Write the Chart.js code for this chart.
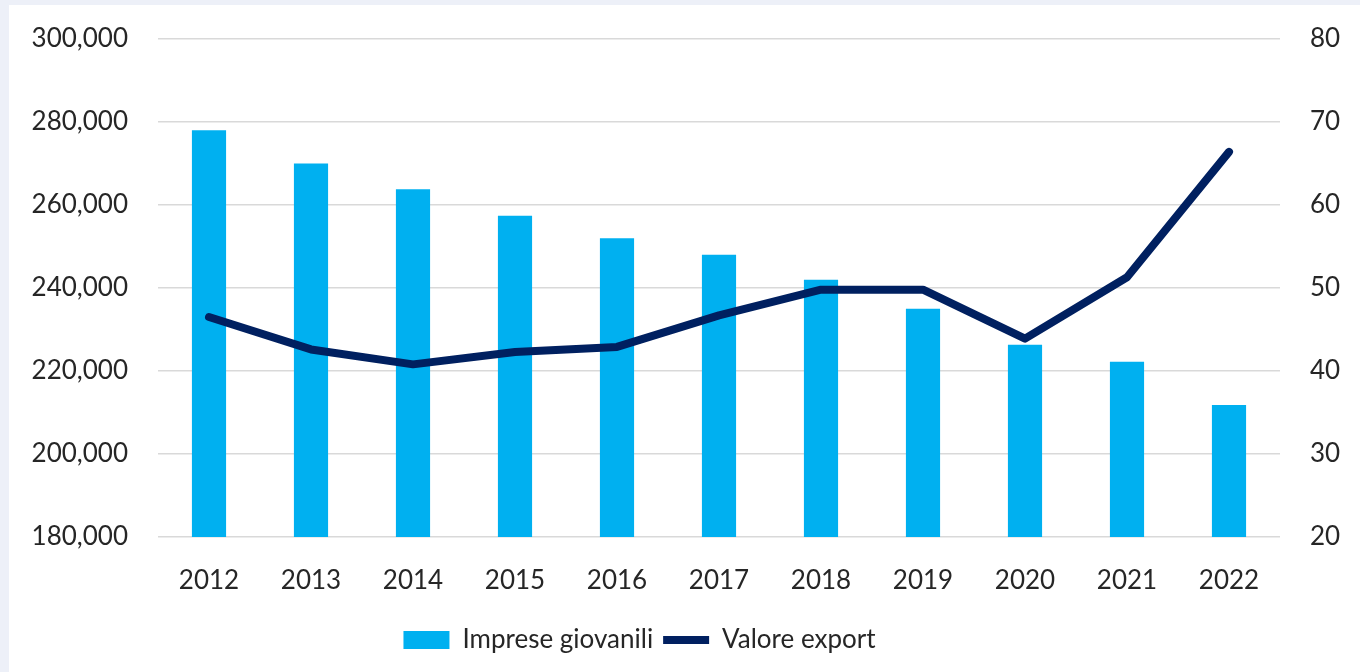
<!DOCTYPE html>
<html>
<head>
<meta charset="utf-8">
<script src="https://cdn.jsdelivr.net/npm/chart.js@4/dist/chart.umd.min.js"></script>
<style>
  html, body { margin: 0; padding: 0; background: #edf0f8; }
  #wrap { position: absolute; left: 9px; top: 5px; width: 1351px; height: 667px; background: #fff; }
</style>
</head>
<body>
<div id="wrap"><canvas id="myChart"></canvas></div>
<script>
const years = ['2012', '2013', '2014', '2015', '2016', '2017', '2018', '2019', '2020', '2021', '2022'];
const impreseGiovanili = [278000, 270000, 263800, 257400, 252000, 248000, 242000, 235000, 226300, 222200, 211800];
const valoreExport = [46.5, 42.6, 40.8, 42.3, 42.9, 46.7, 49.8, 49.8, 43.9, 51.3, 66.4];

const textColor = '#262626';
const font = { family: 'Lato', size: 26 };

// shift the legend a bit to the left like the original
const legendShift = {
  id: 'legendShift',
  afterLayout(chart) {
    chart.legend.left -= 90;
  }
};

const ctx = document.getElementById('myChart').getContext('2d');
new Chart(ctx, {
  type: 'bar',
  data: {
    labels: years,
    datasets: [
      {
        label: 'Imprese giovanili',
        data: impreseGiovanili,
        backgroundColor: '#00B0F0',
        borderWidth: 0,
        categoryPercentage: 1,
        barPercentage: 0.335,
        yAxisID: 'y',
        order: 2
      },
      {
        type: 'line',
        label: 'Valore export',
        data: valoreExport,
        borderColor: '#002060',
        backgroundColor: '#002060',
        borderWidth: 8,
        borderCapStyle: 'round',
        borderJoinStyle: 'round',
        tension: 0,
        pointRadius: 0,
        pointHoverRadius: 0,
        yAxisID: 'y1',
        order: 1
      }
    ]
  },
  options: {
    responsive: true,
    maintainAspectRatio: false,
    animation: false,
    layout: { padding: { top: 34, left: 0, right: 0, bottom: 9 } },
    scales: {
      x: {
        grid: { display: false },
        border: { display: false },
        ticks: { color: textColor, font: font, padding: 20, maxRotation: 0 },
        afterFit: (scale) => { scale.height = 80; }
      },
      y: {
        position: 'left',
        min: 180000,
        max: 300000,
        grid: { color: '#d9d9d9', lineWidth: 1.5, drawTicks: false },
        border: { display: false },
        ticks: {
          stepSize: 20000,
          color: textColor,
          font: font,
          padding: 30,
          callback: (v) => v.toLocaleString('en-US')
        },
        afterFit: (scale) => {
          scale.width = 149;
          scale.paddingTop = 0;
          scale.paddingBottom = 0;
        }
      },
      y1: {
        position: 'right',
        min: 20,
        max: 80,
        grid: { drawOnChartArea: false, drawTicks: false },
        border: { display: false },
        ticks: { stepSize: 10, color: textColor, font: font, padding: 30 },
        afterFit: (scale) => {
          scale.width = 80;
          scale.paddingTop = 0;
          scale.paddingBottom = 0;
        }
      }
    },
    plugins: {
      tooltip: { enabled: false },
      legend: {
        position: 'bottom',
        labels: {
          color: textColor,
          font: font,
          usePointStyle: true,
          pointStyleWidth: 46,
          boxHeight: 18,
          padding: 10,
          sort: (a, b) => a.datasetIndex - b.datasetIndex,
          generateLabels: (chart) => {
            const items = Chart.defaults.plugins.legend.labels.generateLabels(chart);
            items.forEach((item) => {
              if (item.datasetIndex === 0) {
                item.pointStyle = 'rect';
                item.lineWidth = 0;
              } else {
                item.pointStyle = 'line';
                item.lineWidth = 8;
              }
            });
            return items;
          }
        }
      }
    }
  },
  plugins: [legendShift]
});
</script>
</body>
</html>
